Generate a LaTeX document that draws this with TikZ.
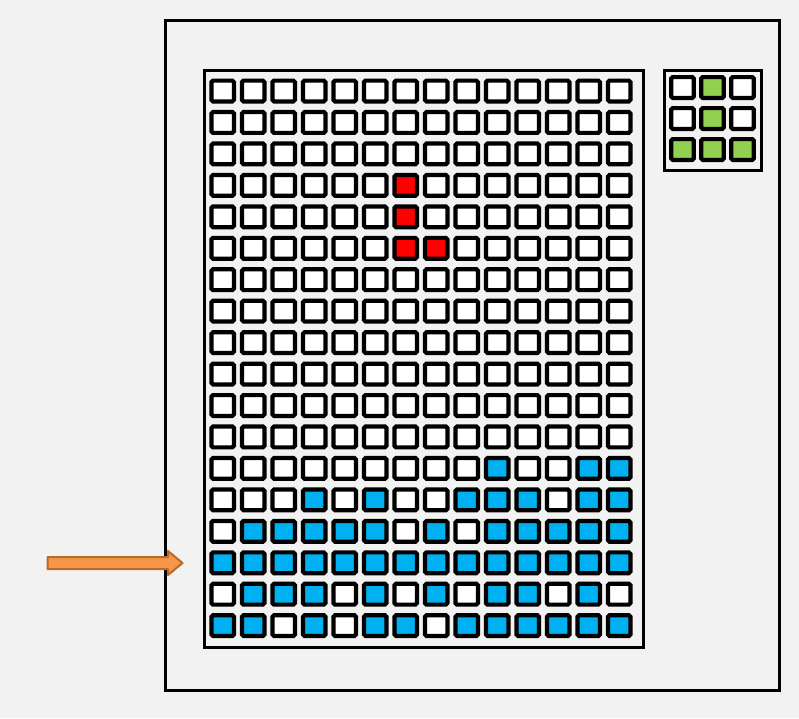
\documentclass[tikz,border=0pt]{standalone}
\definecolor{bg}{HTML}{F2F2F2}
\definecolor{cblue}{HTML}{00B0F0}
\definecolor{cred}{HTML}{FF0000}
\definecolor{cgreen}{HTML}{92D050}
\definecolor{arrfill}{HTML}{F79646}
\definecolor{arrdraw}{HTML}{B66A2C}
\makeatletter
\def\bluecells{,12-9,12-12,12-13,13-3,13-5,13-8,13-9,13-10,13-12,13-13,14-1,14-2,14-3,14-4,14-5,14-7,14-9,14-10,14-11,14-12,14-13,15-0,15-1,15-2,15-3,15-4,15-5,15-6,15-7,15-8,15-9,15-10,15-11,15-12,15-13,16-1,16-2,16-3,16-5,16-7,16-9,16-10,16-12,17-0,17-1,17-3,17-5,17-6,17-8,17-9,17-10,17-11,17-12,17-13,}
\def\redcells{,3-6,4-6,5-6,5-7,}
\def\greencells{,0-1,1-1,2-0,2-1,2-2,}
\makeatother
\begin{document}
\begin{tikzpicture}[x=1pt,y=-1pt,
  cell/.style={draw=black,line width=4.2pt,minimum width=22.5pt,minimum height=20.8pt,inner sep=0pt,rounded corners=1.6pt},
  frame/.style={draw=black,line width=3pt,inner sep=0pt}]
\fill[bg] (0,0) rectangle (799,718);
\useasboundingbox (0,0) rectangle (799,718);
\node[frame,minimum width=614pt,minimum height=670pt] (outer) at (472,355) {};
\node[frame,fill=bg,minimum width=439pt,minimum height=577pt] (board) at (423.5,358.5) {};
\node[frame,fill=bg,minimum width=97pt,minimum height=100pt] (preview) at (712.5,120) {};
\makeatletter
\foreach \r in {0,...,17}{
  \foreach \c in {0,...,13}{
    \def\mycc{white}%
    \edef\mytmp{\noexpand\in@{,\r-\c,}{\bluecells}}\mytmp
    \ifin@\def\mycc{cblue}\fi
    \edef\mytmp{\noexpand\in@{,\r-\c,}{\redcells}}\mytmp
    \ifin@\def\mycc{cred}\fi
    \node[cell,fill=\mycc] (c-\r-\c) at ({222.7+30.5*\c},{91+31.45*\r}) {};
  }
}
\foreach \r in {0,1,2}{
  \foreach \c in {0,1,2}{
    \def\mycc{white}%
    \edef\mytmp{\noexpand\in@{,\r-\c,}{\greencells}}\mytmp
    \ifin@\def\mycc{cgreen}\fi
    \node[cell,fill=\mycc] (p-\r-\c) at ({682.5+30*\c},{87.5+31*\r}) {};
  }
}
\makeatother
\draw[fill=arrfill,draw=arrdraw,line width=2pt,line join=round]
  (47.5,557) -- (168,557) -- (168,551) -- (182.5,563) -- (168,575) -- (168,569) -- (47.5,569) -- cycle;
\end{tikzpicture}
\end{document}
